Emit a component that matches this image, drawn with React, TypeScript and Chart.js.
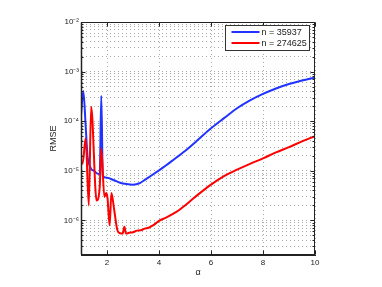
import React, { useEffect, useRef } from "react";
import { Chart, registerables } from "chart.js";

Chart.register(...registerables);

// alpha values and RMSE for n = 35937
const alphaSmall = [1.0, 1.09, 1.18, 1.25, 1.3, 1.4, 1.5, 1.6, 1.72, 1.78, 1.84, 2.0, 2.25, 2.5, 2.75, 3.0, 3.25, 3.5, 3.75, 4.0, 4.25, 4.5, 5.0, 5.5, 6.0, 6.5, 7.0, 7.5, 8.0, 8.5, 9.0, 9.5, 10.0];
const rmseSmall = [1.32e-4, 4.07e-4, 7.9e-5, 2.0e-5, 1.41e-5, 1.07e-5, 1.0e-5, 8.9e-6, 8.5e-6, 3.24e-4, 7.9e-6, 7.2e-6, 6.5e-6, 5.75e-6, 5.4e-6, 5.25e-6, 5.6e-6, 6.8e-6, 8.3e-6, 1.02e-5, 1.26e-5, 1.58e-5, 2.5e-5, 4.2e-5, 7.2e-5, 1.15e-4, 1.82e-4, 2.63e-4, 3.55e-4, 4.57e-4, 5.6e-4, 6.6e-4, 7.6e-4];

// alpha values and RMSE for n = 274625
const alphaLarge = [1.0, 1.06, 1.18, 1.3, 1.39, 1.6, 1.72, 1.78, 1.9, 1.97, 2.02, 2.1, 2.17, 2.28, 2.4, 2.5, 2.6, 2.67, 2.73, 2.85, 3.0, 3.15, 3.3, 3.45, 3.6, 3.75, 3.9, 4.0, 4.25, 4.5, 4.75, 5.0, 5.25, 5.5, 6.0, 6.5, 7.0, 7.5, 8.0, 8.5, 9.0, 9.5, 10.0];
const rmseLarge = [1.5e-5, 1.38e-5, 4.5e-5, 2.0e-6, 1.95e-4, 2.5e-6, 4.7e-6, 2.8e-5, 2.95e-6, 3.55e-6, 2.8e-6, 7.9e-7, 3.55e-6, 1.58e-6, 6.3e-7, 5.5e-7, 5.4e-7, 7.4e-7, 5.4e-7, 5.6e-7, 5.75e-7, 6.2e-7, 6.3e-7, 6.8e-7, 7.1e-7, 7.8e-7, 8.9e-7, 9.8e-7, 1.12e-6, 1.32e-6, 1.58e-6, 2.0e-6, 2.57e-6, 3.3e-6, 5.25e-6, 7.8e-6, 1.05e-5, 1.38e-5, 1.78e-5, 2.34e-5, 3.0e-5, 3.9e-5, 5.0e-5];

const seriesLabels = ["n = 35937", "n = 274625"];
const seriesColors = ["#2233ff", "#ff0000"];
const xTicks = [2, 4, 6, 8, 10];
const yDecades = [-7, -6, -5, -4, -3, -2];
const yMin = 2e-7;
const yMax = 1e-2;
const xLabel = "α";
const yLabel = "RMSE";

const SUP: Record<string, string> = { "-": "⁻", "0": "⁰", "1": "¹", "2": "²", "3": "³", "4": "⁴", "5": "⁵", "6": "⁶", "7": "⁷", "8": "⁸", "9": "⁹" };
const supStr = (s: string) => s.split("").map((c) => SUP[c] || c).join("");

function buildYTicks() {
  const out: number[] = [];
  for (const d of yDecades) {
    for (let m = 1; m <= 9; m++) {
      const v = m * Math.pow(10, d);
      if (v >= yMin * 0.999 && v <= yMax * 1.001) out.push(v);
    }
  }
  return out;
}
const isDecade = (v: number) => Math.abs(Math.log10(v) - Math.round(Math.log10(v))) < 1e-6;

const framePlugin = {
  id: "matlabFrame",
  afterDatasetsDraw(chart: any) {
    const { ctx, chartArea: ca, scales } = chart;
    const L = Math.round(ca.left) + 0.5;
    const R = Math.round(ca.right) - 0.5;
    const T = Math.round(ca.top) + 0.5;
    const B = Math.round(ca.bottom) - 0.5;
    ctx.save();
    ctx.strokeStyle = "#222";
    ctx.lineWidth = 1;
    ctx.setLineDash([]);
    ctx.beginPath();
    for (const v of buildYTicks()) {
      const y = Math.round(scales.y.getPixelForValue(v)) + 0.5;
      const len = isDecade(v) ? 4 : 2;
      ctx.moveTo(L, y); ctx.lineTo(L + len, y);
      ctx.moveTo(R, y); ctx.lineTo(R - len, y);
    }
    for (const v of xTicks) {
      const x = Math.round(scales.x.getPixelForValue(v)) + 0.5;
      ctx.moveTo(x, B); ctx.lineTo(x, B - 4);
      ctx.moveTo(x, T); ctx.lineTo(x, T + 4);
    }
    ctx.stroke();
    ctx.strokeRect(L, T, R - L, B - T);
    ctx.lineWidth = 1.5;
    ctx.beginPath();
    ctx.moveTo(L, T); ctx.lineTo(L, B);
    ctx.stroke();

    // legend
    const lx = Math.round(ca.right) - 89.5;
    const ly = Math.round(ca.top) + 3.5;
    const lw = 84;
    const lh = 25;
    ctx.lineWidth = 1;
    ctx.fillStyle = "#fff";
    ctx.fillRect(lx, ly, lw, lh);
    ctx.strokeStyle = "#333";
    ctx.strokeRect(lx, ly, lw, lh);
    ctx.font = '9px "Liberation Sans", Arial, sans-serif';
    ctx.textBaseline = "middle";
    ctx.textAlign = "left";
    seriesLabels.forEach((lab, i) => {
      const yy = ly + 6.5 + i * 11;
      ctx.strokeStyle = seriesColors[i];
      ctx.lineWidth = 2;
      ctx.beginPath();
      ctx.moveTo(lx + 6, yy);
      ctx.lineTo(lx + 34, yy);
      ctx.stroke();
      ctx.fillStyle = "#222";
      ctx.fillText(lab, lx + 36, yy + 0.5);
    });
    ctx.restore();
  },
};

export default function App() {
  const ref = useRef<HTMLCanvasElement | null>(null);
  useEffect(() => {
    if (!ref.current) return;
    const tickFont = { family: '"Liberation Sans", Arial, sans-serif', size: 8 };
    const titleFont = { family: '"Liberation Sans", Arial, sans-serif', size: 9 };
    const gridColor = "rgba(110,110,110,0.6)";
    const chart = new Chart(ref.current, {
      type: "line",
      data: {
        datasets: [
          {
            label: seriesLabels[0],
            data: alphaSmall.map((a, i) => ({ x: a, y: rmseSmall[i] })),
            borderColor: seriesColors[0],
            backgroundColor: seriesColors[0],
            borderWidth: 2,
            pointRadius: 0,
            cubicInterpolationMode: "monotone",
            order: 2,
          },
          {
            label: seriesLabels[1],
            data: alphaLarge.map((a, i) => ({ x: a, y: rmseLarge[i] })),
            borderColor: seriesColors[1],
            backgroundColor: seriesColors[1],
            borderWidth: 2,
            pointRadius: 0,
            cubicInterpolationMode: "monotone",
            order: 1,
          },
        ],
      },
      options: {
        responsive: false,
        animation: false,
        devicePixelRatio: 1,
        layout: { padding: { left: 0, right: 67, top: 22, bottom: 0 } },
        plugins: { legend: { display: false }, tooltip: { enabled: false } },
        scales: {
          x: {
            type: "linear",
            min: 1,
            max: 10,
            afterBuildTicks: (s: any) => { s.ticks = xTicks.map((v) => ({ value: v })); },
            afterFit: (s: any) => { s.height = 32; },
            ticks: { font: tickFont, color: "#222", padding: 3, autoSkip: false, maxRotation: 0, callback: (v: any) => String(v) },
            grid: { color: gridColor, drawTicks: false, lineWidth: 1 },
            border: { display: true, color: "#222", dash: [1, 3] },
            title: { display: true, text: xLabel, font: titleFont, color: "#222", padding: { top: 0, bottom: 9 } },
          },
          y: {
            type: "logarithmic",
            min: yMin,
            max: yMax,
            afterBuildTicks: (s: any) => { s.ticks = buildYTicks().map((v) => ({ value: v })); },
            afterFit: (s: any) => { s.width = 81; },
            ticks: {
              font: tickFont,
              color: "#222",
              padding: 2,
              autoSkip: false,
              callback: (v: any) => (isDecade(Number(v)) ? "10" + supStr(String(Math.round(Math.log10(Number(v))))) : ""),
            },
            grid: { color: gridColor, drawTicks: false, lineWidth: 1 },
            border: { display: true, color: "#222", dash: [1, 3] },
            title: { display: true, text: yLabel, font: titleFont, color: "#222", padding: { top: 48, bottom: 0 } },
          },
        },
      },
      plugins: [framePlugin],
    } as any);
    return () => chart.destroy();
  }, []);
  return (
    <div style={{ position: "absolute", left: 0, top: 0, width: 382, height: 287, background: "#fff" }}>
      <canvas ref={ref} width={382} height={287} style={{ display: "block" }} />
    </div>
  );
}
